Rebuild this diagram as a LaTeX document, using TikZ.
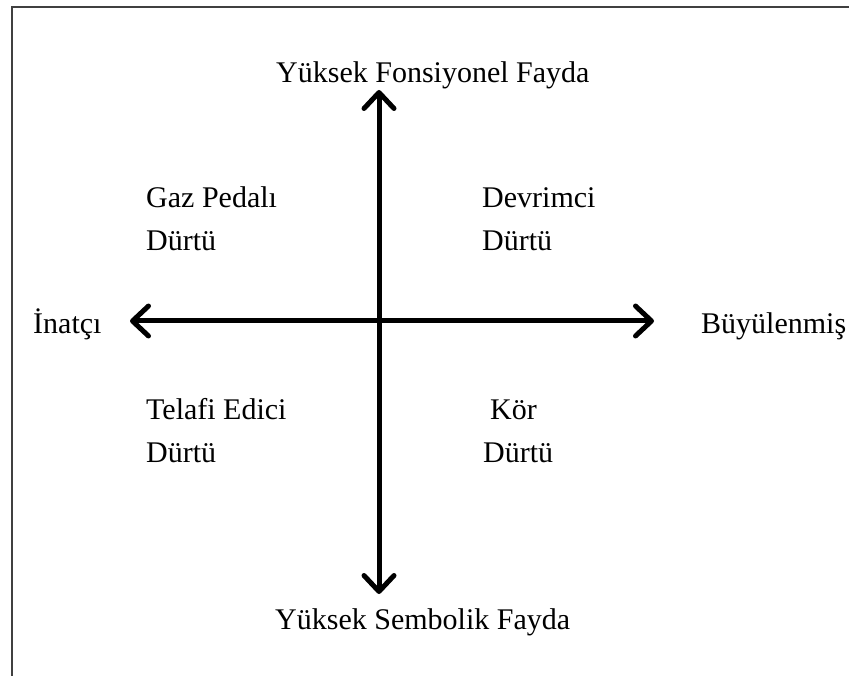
\documentclass[tikz,border=0pt]{standalone}
\usepackage{fontspec}
\setmainfont{Liberation Serif}
\usepackage{tikz}
\usetikzlibrary{positioning,arrows.meta}

\tikzset{
  lbl/.style={inner sep=0pt,anchor=base west,align=left,font=\fontsize{30}{43}\selectfont},
  axis/.style={line width=5pt,{Straight Barb[length=16pt,width=30pt,round]}-{Straight Barb[length=16pt,width=30pt,round]}}
}

\begin{document}
\begin{tikzpicture}[x=1pt,y=-1pt]
\useasboundingbox (0,0) rectangle (849,676);
% frame
\draw[line width=2.5pt,black!75] (12,676)--(12,7)--(849,7);

% axes ends
\coordinate (north) at (379,90);
\coordinate (south) at (379,594);
\coordinate (west) at (130,321);
\coordinate (east) at (654,321);

\draw[axis] (south)--(north);
\draw[axis] (west)--(east);

% axis labels
\node[lbl] (fonk) at (276,83) {Yüksek Fonsiyonel Fayda};
\node[lbl] (semb) at (275,629) {Yüksek Sembolik Fayda};
\node[lbl] (inat) at (33,334) {İnatçı};
\node[lbl] (buyu) at (701,334) {Büyülenmiş};

% quadrants (base = last line)
\node[lbl] (gaz) at (146,251) {Gaz Pedalı\\Dürtü};
\node[lbl] (devr) at (482,251) {Devrimci\\Dürtü};
\node[lbl] (tela) at (146,462) {Telafi Edici\\Dürtü};
\node[lbl] (kor) at (490,419) {Kör};
\node[lbl] (kord) at (483,462) {Dürtü};
\end{tikzpicture}
\end{document}
